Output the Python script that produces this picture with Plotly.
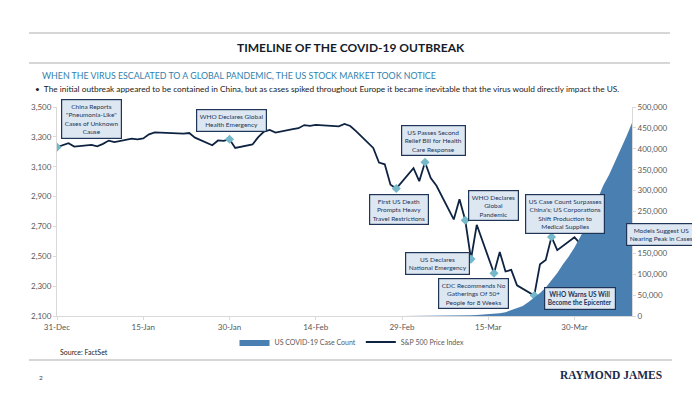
import plotly.graph_objects as go

# ---------------- data ----------------
sp_dates = [
    "2019-12-31", "2020-01-02", "2020-01-03", "2020-01-06", "2020-01-07", "2020-01-08", "2020-01-09",
    "2020-01-10", "2020-01-13", "2020-01-14", "2020-01-15", "2020-01-16", "2020-01-17", "2020-01-21",
    "2020-01-22", "2020-01-23", "2020-01-24", "2020-01-27", "2020-01-28", "2020-01-29", "2020-01-30",
    "2020-01-31", "2020-02-03", "2020-02-04", "2020-02-05", "2020-02-06", "2020-02-07", "2020-02-10",
    "2020-02-11", "2020-02-12", "2020-02-13", "2020-02-14", "2020-02-18", "2020-02-19", "2020-02-20",
    "2020-02-21", "2020-02-24", "2020-02-25", "2020-02-26", "2020-02-27", "2020-02-28", "2020-03-02",
    "2020-03-03", "2020-03-04", "2020-03-05", "2020-03-06", "2020-03-09", "2020-03-10", "2020-03-11",
    "2020-03-12", "2020-03-13", "2020-03-16", "2020-03-17", "2020-03-18", "2020-03-19", "2020-03-20",
    "2020-03-23", "2020-03-24", "2020-03-25", "2020-03-26", "2020-03-27", "2020-03-30", "2020-03-31",
    "2020-04-01", "2020-04-02", "2020-04-03", "2020-04-06", "2020-04-07", "2020-04-08", "2020-04-09",
]
sp_values = [
    3231, 3258, 3235, 3246, 3237, 3253, 3275,
    3265, 3288, 3283, 3289, 3317, 3330, 3321,
    3322, 3326, 3295, 3244, 3276, 3273, 3284,
    3226, 3249, 3298, 3335, 3346, 3328, 3352,
    3358, 3379, 3374, 3380, 3370, 3386, 3373,
    3338, 3226, 3128, 3116, 2979, 2954, 3090,
    3003, 3130, 3024, 2972, 2747, 2882, 2741,
    2481, 2711, 2386, 2529, 2398, 2409, 2305,
    2237, 2447, 2476, 2630, 2541, 2627, 2585,
    2471, 2527, 2489, 2664, 2659, 2750, 2790,
]

case_dates = [
    "2020-02-29", "2020-03-01", "2020-03-02", "2020-03-03", "2020-03-04", "2020-03-05", "2020-03-06",
    "2020-03-07", "2020-03-08", "2020-03-09", "2020-03-10", "2020-03-11", "2020-03-12", "2020-03-13",
    "2020-03-14", "2020-03-15", "2020-03-16", "2020-03-17", "2020-03-18", "2020-03-19", "2020-03-20",
    "2020-03-21", "2020-03-22", "2020-03-23", "2020-03-24", "2020-03-25", "2020-03-26", "2020-03-27",
    "2020-03-28", "2020-03-29", "2020-03-30", "2020-03-31", "2020-04-01", "2020-04-02", "2020-04-03",
    "2020-04-04", "2020-04-05", "2020-04-06", "2020-04-07", "2020-04-08", "2020-04-09",
]
case_values = [
    68, 75, 100, 124, 158, 221, 319,
    435, 541, 704, 994, 1301, 1630, 2183,
    2770, 3613, 4596, 6344, 9197, 13779, 19367,
    24192, 33592, 43781, 54856, 68211, 85570, 102900,
    123966, 142460, 163962, 188172, 215003, 245573, 277965,
    312237, 337072, 366667, 396223, 429052, 461437,
]

event_dates = [
    "2019-12-31", "2020-01-30", "2020-02-28", "2020-03-04", "2020-03-11",
    "2020-03-12", "2020-03-16", "2020-03-23", "2020-03-26", "2020-04-07",
]
event_labels = [
    "China Reports<br>\"Pneumonia-Like\"<br>Cases of Unknown<br>Cause",
    "WHO Declares Global<br>Health Emergency",
    "First US Death<br>Prompts Heavy<br>Travel Restrictions",
    "US Passes Second<br>Relief Bill for Health<br>Care Response",
    "WHO Declares<br>Global<br>Pandemic",
    "US Declares<br>National Emergency",
    "CDC Recommends No<br>Gatherings Of 50+<br>People for 8 Weeks",
    "<b>WHO Warns US Will<br>Become the Epicenter</b>",
    "US Case Count Surpasses<br>China's; US Corporations<br>Shift Production to<br>Medical Supplies",
    "Models Suggest US<br>Nearing Peak in Cases",
]

left_ticks = [2100, 2300, 2500, 2700, 2900, 3100, 3300, 3500]
right_ticks = [0, 50000, 100000, 150000, 200000, 250000, 300000, 350000, 400000, 450000, 500000]

# ---------------- layout geometry (screen pixels) ----------------
OFF = 8                      # page body margin
W, H = 700 - OFF, 394 - OFF
PL, PR, PT, PB = 57, 632, 107, 316   # plot area in screen pixels


def px(x):
    return (x - PL) / (PR - PL)


def py(y):
    return (PB - y) / (PB - PT)


# annotation box centres (screen pixels)
box_pos = [
    (91, 119), (231, 120), (399, 209), (434, 140), (493, 205),
    (437, 263), (473, 293), (580, 298), (565, 214), (661, 234),
]

FONT = "Lato, 'Open Sans', sans-serif"
NAVY = "#0e2341"
AREA = "#4a7fb2"
MARK = "#74b8c9"
GREY = "#595959"

sp_lookup = dict(zip(sp_dates, sp_values))
event_y = [sp_lookup[d] for d in event_dates]

fig = go.Figure()
fig.add_trace(go.Scatter(
    x=case_dates, y=case_values, yaxis="y2", name="US COVID-19 Case Count",
    mode="lines", line=dict(width=0, color=AREA), fill="tozeroy", fillcolor=AREA,
))
fig.add_trace(go.Scatter(
    x=sp_dates, y=sp_values, name="S&P 500 Price Index",
    mode="lines", line=dict(color=NAVY, width=1.8),
))
fig.add_trace(go.Scatter(
    x=event_dates, y=event_y, mode="markers", showlegend=False,
    marker=dict(symbol="diamond", size=7, color=MARK), hoverinfo="skip",
))

annotations = []
for (bx, by), lab in zip(box_pos, event_labels):
    annotations.append(dict(
        x=px(bx), y=py(by), xref="paper", yref="paper", text=lab, showarrow=False,
        font=dict(family=FONT, size=6.5, color="#1f3557"), align="center",
        bgcolor="#dce7f2", bordercolor="#1f3557", borderwidth=1.2, borderpad=2.5,
        xanchor="center", yanchor="middle",
    ))

annotations += [
    dict(x=px(351), y=py(47), xref="paper", yref="paper", showarrow=False,
         text="<b>TIMELINE OF THE COVID-19 OUTBREAK</b>", xanchor="center", yanchor="middle",
         font=dict(family=FONT, size=12, color="#141c2b")),
    dict(x=px(40), y=py(75), xref="paper", yref="paper", showarrow=False,
         text="WHEN THE VIRUS ESCALATED TO A GLOBAL PANDEMIC, THE US STOCK MARKET TOOK NOTICE",
         xanchor="left", yanchor="middle", font=dict(family=FONT, size=8.8, color="#2f7fae")),
    dict(x=px(33), y=py(89), xref="paper", yref="paper", showarrow=False,
         text="•  The initial outbreak appeared to be contained in China, but as cases spiked throughout Europe it became inevitable that the virus would directly impact the US.",
         xanchor="left", yanchor="middle", font=dict(family=FONT, size=8.3, color="#222222")),
    dict(x=px(58), y=py(352), xref="paper", yref="paper", showarrow=False,
         text="Source: FactSet", xanchor="left", yanchor="middle",
         font=dict(family=FONT, size=7, color="#222222")),
    dict(x=px(37), y=py(377), xref="paper", yref="paper", showarrow=False,
         text="2", xanchor="left", yanchor="middle",
         font=dict(family=FONT, size=6.5, color="#444444")),
    dict(x=px(664), y=py(375), xref="paper", yref="paper", showarrow=False,
         text="<b>RAYMOND JAMES</b>", xanchor="right", yanchor="middle",
         font=dict(family="'Liberation Serif', 'DejaVu Serif', serif", size=11.5, color="#1b2a4a")),
]

shapes = [
    dict(type="line", xref="paper", yref="paper", x0=px(29), x1=px(670), y0=py(33), y1=py(33),
         line=dict(color="#c8c8c8", width=1.5)),
    dict(type="line", xref="paper", yref="paper", x0=px(29), x1=px(670), y0=py(63), y1=py(63),
         line=dict(color="#c8c8c8", width=1.5)),
    dict(type="line", xref="paper", yref="paper", x0=px(29), x1=px(672), y0=py(360), y1=py(360),
         line=dict(color="#c8c8c8", width=1.5)),
]

fig.update_layout(
    width=W, height=H,
    margin=dict(l=PL - OFF, r=(W + OFF) - PR, t=PT - OFF, b=(H + OFF) - PB),
    paper_bgcolor="white", plot_bgcolor="white",
    font=dict(family=FONT, size=8, color=GREY),
    showlegend=True,
    legend=dict(orientation="h", x=px(352), y=py(342), xanchor="center", yanchor="middle",
                font=dict(family=FONT, size=7, color=GREY), itemwidth=30,
                bgcolor="rgba(0,0,0,0)"),
    xaxis=dict(type="date", range=["2019-12-31", "2020-04-09"], tick0="2019-12-31",
               dtick=15 * 86400000, tickformat="%d-%b", showgrid=False,
               showline=True, linecolor="#d9d9d9", ticks="outside", ticklen=3,
               tickcolor="#d9d9d9", tickfont=dict(size=8, color=GREY), zeroline=False),
    yaxis=dict(range=[2100, 3500], tickvals=left_ticks, tickformat=",", showgrid=False,
               showline=True, linecolor="#d9d9d9", ticks="outside", ticklen=3,
               tickcolor="#d9d9d9", tickfont=dict(size=8, color=GREY), zeroline=False),
    yaxis2=dict(range=[0, 500000], tickvals=right_ticks, tickformat=",", overlaying="y",
                side="right", showgrid=False, showline=True, linecolor="#d9d9d9",
                ticks="outside", ticklen=3, tickcolor="#d9d9d9",
                tickfont=dict(size=8, color=GREY), zeroline=False),
    annotations=annotations, shapes=shapes,
)

fig.write_html("out.html")
